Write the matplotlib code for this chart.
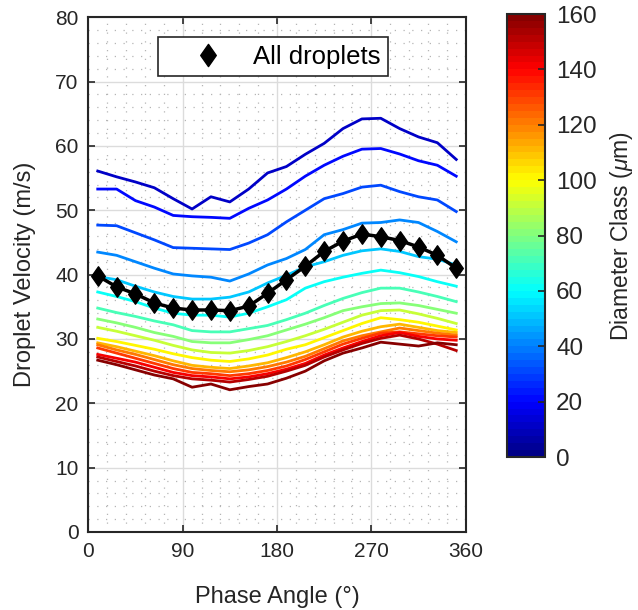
import numpy as np
import matplotlib
matplotlib.use("Agg")
import matplotlib.pyplot as plt
from matplotlib.colors import ListedColormap, Normalize
from matplotlib.cm import ScalarMappable
from matplotlib.lines import Line2D
from matplotlib.path import Path
from matplotlib.ticker import MultipleLocator

plt.rcParams['font.family'] = ['Liberation Sans', 'DejaVu Sans']
plt.rcParams['mathtext.fontset'] = 'custom'
plt.rcParams['mathtext.it'] = 'Liberation Sans:italic'
plt.rcParams['mathtext.rm'] = 'Liberation Sans'

# phase bins (deg)
phase = [9, 27, 45, 63, 81, 99, 117, 135, 153, 171,
         189, 207, 225, 243, 261, 279, 297, 315, 333, 351]

# diameter classes (um)
diameters = [10, 20, 30, 40, 50, 60, 70, 80, 90, 100, 110, 120, 130, 140, 150, 160]

# mean velocity per diameter class (m/s)
vel_d10 = [56.1, 55.2, 54.4, 53.5, 51.8, 50.2, 52.1, 51.3, 53.3, 55.8,
           56.8, 58.7, 60.4, 62.7, 64.2, 64.3, 62.7, 61.4, 60.5, 57.9]
vel_d20 = [53.3, 53.3, 51.5, 50.5, 49.2, 49.0, 48.9, 48.75, 50.3, 51.6,
           53.3, 55.3, 57.0, 58.4, 59.5, 59.6, 58.75, 57.7, 57.0, 55.3]
vel_d30 = [47.7, 47.6, 46.5, 45.4, 44.2, 44.1, 44.0, 43.9, 44.9, 46.2,
           48.2, 50.0, 51.8, 52.6, 53.6, 53.9, 52.9, 52.1, 51.6, 49.8]
vel_d40 = [43.5, 43.0, 42.0, 41.0, 40.1, 39.8, 39.6, 39.0, 40.1, 41.5,
           42.5, 43.9, 46.2, 47.0, 48.0, 48.1, 48.5, 48.1, 46.7, 45.1]
vel_d50 = [39.7, 39.2, 38.2, 37.3, 36.6, 36.2, 36.2, 36.5, 37.3, 38.7,
           39.9, 41.2, 42.0, 43.0, 43.7, 44.0, 43.6, 42.8, 42.4, 41.5]
vel_d60 = [37.3, 36.6, 35.8, 34.8, 34.0, 33.7, 33.7, 33.4, 34.0, 35.0,
           36.1, 37.9, 38.9, 39.6, 40.2, 40.7, 40.3, 39.7, 38.9, 38.2]
vel_d70 = [34.8, 34.1, 33.5, 32.8, 32.2, 31.3, 31.1, 31.1, 31.6, 32.1,
           33.0, 34.0, 35.2, 36.3, 37.2, 37.9, 37.9, 37.3, 36.6, 35.8]
vel_d80 = [33.1, 32.5, 31.8, 31.0, 30.4, 29.6, 29.4, 29.4, 29.9, 30.5,
           31.4, 32.3, 33.3, 34.4, 35.0, 35.5, 35.6, 35.2, 34.6, 34.0]
vel_d90 = [31.8, 31.2, 30.5, 29.8, 29.0, 28.3, 27.9, 27.8, 28.2, 28.8,
           29.6, 30.5, 31.5, 32.6, 33.7, 34.4, 34.5, 33.9, 33.2, 32.4]
vel_d100 = [30.1, 29.6, 29.0, 28.4, 27.7, 27.1, 26.7, 26.5, 26.9, 27.5,
            28.4, 29.1, 30.2, 31.3, 32.4, 33.3, 33.0, 32.6, 32.0, 31.4]
vel_d110 = [29.4, 28.8, 28.1, 27.4, 26.6, 25.9, 25.6, 25.4, 25.8, 26.3,
            27.1, 28.0, 29.1, 30.3, 31.2, 31.9, 32.3, 31.8, 31.3, 31.0]
vel_d120 = [29.1, 28.3, 27.6, 26.8, 26.0, 25.4, 25.1, 24.9, 25.2, 25.7,
            26.4, 27.3, 28.5, 29.7, 30.5, 31.1, 31.7, 31.3, 30.9, 30.6]
vel_d130 = [28.6, 27.8, 27.0, 26.2, 25.4, 24.8, 24.6, 24.3, 24.6, 25.1,
            25.8, 26.8, 28.0, 29.2, 30.1, 30.9, 31.1, 30.8, 30.5, 30.3]
vel_d140 = [27.6, 27.0, 26.4, 25.6, 24.8, 24.3, 24.1, 23.8, 24.1, 24.6,
            25.3, 26.2, 27.5, 28.6, 29.6, 30.5, 31.0, 30.4, 30.0, 29.8]
vel_d150 = [27.2, 26.5, 25.8, 25.0, 24.3, 23.8, 23.6, 23.3, 23.7, 24.2,
            25.0, 25.9, 27.2, 28.3, 29.3, 30.1, 30.6, 30.0, 29.2, 28.2]
vel_d160 = [26.7, 26.0, 25.2, 24.4, 23.8, 22.5, 23.0, 22.1, 22.6, 23.0,
            23.9, 25.0, 26.6, 27.8, 28.6, 29.5, 29.2, 28.9, 29.4, 29.1]

vel_all = [39.8, 38.1, 37.0, 35.6, 34.8, 34.5, 34.5, 34.4, 35.1, 37.1,
           39.2, 41.3, 43.6, 45.2, 46.3, 45.9, 45.3, 44.3, 43.0, 41.0]

velocities = [vel_d10, vel_d20, vel_d30, vel_d40, vel_d50, vel_d60, vel_d70, vel_d80,
              vel_d90, vel_d100, vel_d110, vel_d120, vel_d130, vel_d140, vel_d150, vel_d160]


def matlab_jet(n=64):
    # piecewise-linear jet like MATLAB's
    x = (np.arange(n) + 0.5) / n
    r = np.interp(x, [0, 3/8, 5/8, 7/8, 1], [0, 0, 1, 1, 0.5])
    g = np.interp(x, [0, 1/8, 3/8, 5/8, 7/8, 1], [0, 0, 1, 1, 0, 0])
    b = np.interp(x, [0, 1/8, 3/8, 5/8, 1], [0.5, 1, 1, 0, 0])
    return ListedColormap(np.column_stack([r, g, b]))


cmap = matlab_jet(64)
norm = Normalize(0, 160)
dark = '#262626'

# MATLAB-ish diamond (taller than wide)
diamond = Path([(0, 1), (0.7, 0), (0, -1), (-0.7, 0), (0, 1)],
               [Path.MOVETO, Path.LINETO, Path.LINETO, Path.LINETO, Path.CLOSEPOLY])

fig = plt.figure(figsize=(6.38, 6.10), dpi=100)
ax = fig.add_axes([0.1384, 0.1279, 0.5915, 0.8438])

for d, v in zip(diameters, velocities):
    ax.plot(phase, v, color=cmap(norm(d)), lw=2)

ax.plot(phase, vel_all, color='k', lw=2.5, marker=diamond, ms=14, zorder=5)

ax.set_xlim(0, 360)
ax.set_ylim(0, 80)
ax.set_xticks([0, 90, 180, 270, 360])
ax.set_yticks(range(0, 81, 10))
ax.xaxis.set_minor_locator(MultipleLocator(18))
ax.yaxis.set_minor_locator(MultipleLocator(2))
ax.grid(which='major', color='#dcdcdc', lw=1)
ax.grid(which='minor', color='#b5b5b5', lw=0.9, ls=(0, (1, 6)))
ax.set_axisbelow(True)
ax.tick_params(which='major', direction='in', length=5, width=1.2, color=dark,
               labelcolor=dark, labelsize=15, top=True, right=True)
ax.tick_params(axis='x', pad=7)
ax.tick_params(axis='y', pad=7)
ax.tick_params(which='minor', length=0)
for s in ax.spines.values():
    s.set_color(dark)
    s.set_linewidth(1.5)

ax.set_xlabel('Phase Angle (°)', fontsize=17, color=dark, labelpad=18)
ax.set_ylabel('Droplet Velocity (m/s)', fontsize=17, color=dark, labelpad=14)

handle = Line2D([], [], color='k', marker=diamond, ls='none', ms=16, label='All droplets')
leg = ax.legend(handles=[handle], loc='upper left', bbox_to_anchor=(0.185, 0.962),
                borderaxespad=0, fontsize=18.5, fancybox=False, framealpha=1,
                edgecolor=dark, handlelength=3.3, handletextpad=0.1, borderpad=0.3)
leg.get_frame().set_linewidth(1.2)

cax = fig.add_axes([0.7947, 0.2508, 0.0596, 0.7262])
cb = fig.colorbar(ScalarMappable(norm=norm, cmap=cmap), cax=cax)
cb.set_ticks(range(0, 161, 20))
cb.ax.tick_params(direction='in', length=5, width=1.2, color=dark, labelcolor=dark,
                  labelsize=17.5, pad=8)
cb.outline.set_edgecolor(dark)
cb.outline.set_linewidth(1.5)
cb.set_label('Diameter Class ($\\mu$m)', fontsize=16.5, color=dark, labelpad=8)

fig.savefig('out.png', dpi=100)
